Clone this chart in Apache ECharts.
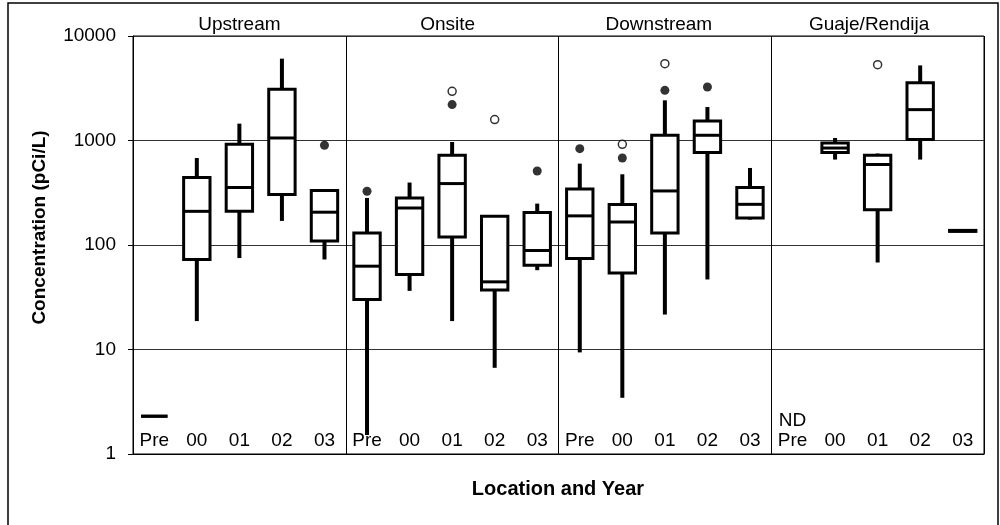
<!DOCTYPE html>
<html>
<head>
<meta charset="utf-8">
<script src="https://cdn.jsdelivr.net/npm/echarts@6/dist/echarts.min.js"></script>
<style>
  html, body { margin: 0; padding: 0; background: #fff; }
  #chart { width: 1000px; height: 525px; }
</style>
</head>
<body>
<div id="chart"></div>
<script>
// ---- Data ----
const locations = ['Upstream', 'Onsite', 'Downstream', 'Guaje/Rendija'];
const years = ['Pre', '00', '01', '02', '03'];
const yTicks = [1, 10, 100, 1000, 10000];
const noDataLabel = 'ND';

// Each box: [lower whisker, Q1, median, Q3, upper whisker]; null = not detected
const upstreamBoxes = [
  [2.3, 2.3, 2.3, 2.3, 2.3],
  [18.7, 72.7, 210, 442, 680],
  [75, 210, 355, 920, 1450],
  [170, 304, 1057, 3085, 6070],
  [72.7, 109, 206, 332, 332]
];
const onsiteBoxes = [
  [1.52, 30.1, 62.7, 130.5, 282],
  [36.4, 52.2, 226, 282, 396],
  [18.7, 119.6, 387, 722, 968],
  [6.68, 37, 44.4, 188.5, 188.5],
  [57.4, 64.1, 88.6, 205, 249]
];
const downstreamBoxes = [
  [9.38, 74.3, 190, 344, 601],
  [3.45, 54.1, 166, 244, 475],
  [21.6, 130.5, 329, 1122, 2423],
  [46.8, 766, 1122, 1537, 2090],
  [175, 181.5, 245, 355, 546]
];
const guajeBoxes = [
  null,
  [657, 766, 847, 946, 1057],
  [68, 218, 589, 722, 750],
  [657, 1020, 1974, 3575, 5230],
  [133, 135, 136.5, 138, 140]
];
// Outliers: [location, year, value]
const filledOutliers = [
  ['Upstream', '03', 900],
  ['Onsite', 'Pre', 327],
  ['Onsite', '01', 2205],
  ['Onsite', '03', 511],
  ['Downstream', 'Pre', 836],
  ['Downstream', '00', 680],
  ['Downstream', '01', 3020],
  ['Downstream', '02', 3250]
];
const openOutliers = [
  ['Onsite', '01', 2953],
  ['Onsite', '02', 1585],
  ['Downstream', '00', 920],
  ['Downstream', '01', 5432],
  ['Guaje/Rendija', '01', 5318]
];

// ---- Build structures ----
const allBoxes = [upstreamBoxes, onsiteBoxes, downstreamBoxes, guajeBoxes];
const categories = [];
const boxData = [];
const ndSet = new Set();
locations.forEach((loc, li) => {
  years.forEach((yr, yi) => {
    const idx = categories.length;
    categories.push(loc + '|' + yr);
    const b = allBoxes[li][yi];
    if (b) boxData.push([idx].concat(b));
    else ndSet.add(loc + '|' + yr);
  });
});
function catIndex(loc, yr) { return locations.indexOf(loc) * years.length + years.indexOf(yr); }
const filledData = filledOutliers.map(o => [catIndex(o[0], o[1]), o[2]]);
const openData = openOutliers.map(o => [catIndex(o[0], o[1]), o[2]]);

const FONT = '"Liberation Sans", Arial, sans-serif';
const chart = echarts.init(document.getElementById('chart'), null, { renderer: 'canvas' });

const grid = { left: 133, top: 36, width: 851, height: 418 };
const panelW = grid.width / locations.length;
const titleOffsets = [0, -4.5, -6, -8.5];

const option = {
  animation: false,
  backgroundColor: '#fff',
  grid: Object.assign({ show: true, borderColor: '#000', borderWidth: 1, backgroundColor: '#fff' }, grid),
  xAxis: {
    type: 'category',
    data: categories,
    boundaryGap: true,
    axisLine: { show: true, lineStyle: { color: '#000', width: 1 } },
    axisTick: { show: false },
    axisLabel: {
      inside: true,
      interval: 0,
      margin: 3,
      color: '#000',
      fontSize: 19,
      fontFamily: FONT,
      lineHeight: 20,
      formatter: function (v) {
        const yr = v.split('|')[1];
        return ndSet.has(v) ? noDataLabel + '\n' + yr : yr;
      }
    },
    splitLine: {
      show: true,
      interval: function (i) { return i % years.length === 0; },
      lineStyle: { color: '#000', width: 1 }
    }
  },
  yAxis: {
    type: 'log',
    logBase: 10,
    min: yTicks[0],
    max: yTicks[yTicks.length - 1],
    axisLine: { show: true, lineStyle: { color: '#000', width: 1 } },
    axisTick: { show: true, inside: false, length: 5, lineStyle: { color: '#000' } },
    axisLabel: {
      color: '#000', fontSize: 19, fontFamily: FONT, margin: 17,
      formatter: function (v) { return String(Math.round(v)); }
    },
    splitLine: { show: true, lineStyle: { color: '#333', width: 1 } }
  },
  graphic: [
    { type: 'rect', shape: { x: 8, y: 3, width: 990, height: 540 }, style: { fill: 'none', stroke: '#000', lineWidth: 1.5 }, z: -1 },
    { type: 'text', x: 40, y: 227.5, rotation: Math.PI / 2,
      style: { text: 'Concentration (pCi/L)', font: 'bold 19px ' + FONT, fill: '#000', align: 'center', verticalAlign: 'middle' } },
    { type: 'text', x: 558, y: 489,
      style: { text: 'Location and Year', font: 'bold 20px ' + FONT, fill: '#000', align: 'center', verticalAlign: 'middle' } }
  ].concat(locations.map((loc, i) => ({
    type: 'text', x: grid.left + panelW * (i + 0.5) + titleOffsets[i], y: 25,
    style: { text: loc, font: '19px ' + FONT, fill: '#000', align: 'center', verticalAlign: 'middle' }
  }))),
  series: [
    {
      type: 'custom',
      data: boxData,
      encode: { x: 0, y: [1, 2, 3, 4, 5] },
      z: 3,
      renderItem: function (params, api) {
        const x = api.value(0);
        const pLow = api.coord([x, api.value(1)]);
        const pQ1 = api.coord([x, api.value(2)]);
        const pMed = api.coord([x, api.value(3)]);
        const pQ3 = api.coord([x, api.value(4)]);
        const pHigh = api.coord([x, api.value(5)]);
        const half = api.size([1, 1])[0] * 0.31;
        const cx = pMed[0];
        const black = '#000';
        return {
          type: 'group',
          children: [
            { type: 'line', shape: { x1: cx, y1: pLow[1], x2: cx, y2: pQ1[1] }, style: { stroke: black, lineWidth: 4 } },
            { type: 'line', shape: { x1: cx, y1: pQ3[1], x2: cx, y2: pHigh[1] }, style: { stroke: black, lineWidth: 4 } },
            { type: 'rect', shape: { x: cx - half, y: pQ3[1], width: half * 2, height: pQ1[1] - pQ3[1] },
              style: { fill: '#fff', stroke: black, lineWidth: 3 } },
            { type: 'line', shape: { x1: cx - half, y1: pMed[1], x2: cx + half, y2: pMed[1] }, style: { stroke: black, lineWidth: 3 } }
          ]
        };
      }
    },
    {
      type: 'scatter',
      data: filledData,
      symbol: 'circle',
      symbolSize: 9,
      itemStyle: { color: '#000' },
      z: 4
    },
    {
      type: 'scatter',
      data: openData,
      symbol: 'circle',
      symbolSize: 8,
      itemStyle: { color: '#fff', borderColor: '#000', borderWidth: 1.5 },
      z: 4
    }
  ]
};
chart.setOption(option);
</script>
</body>
</html>
